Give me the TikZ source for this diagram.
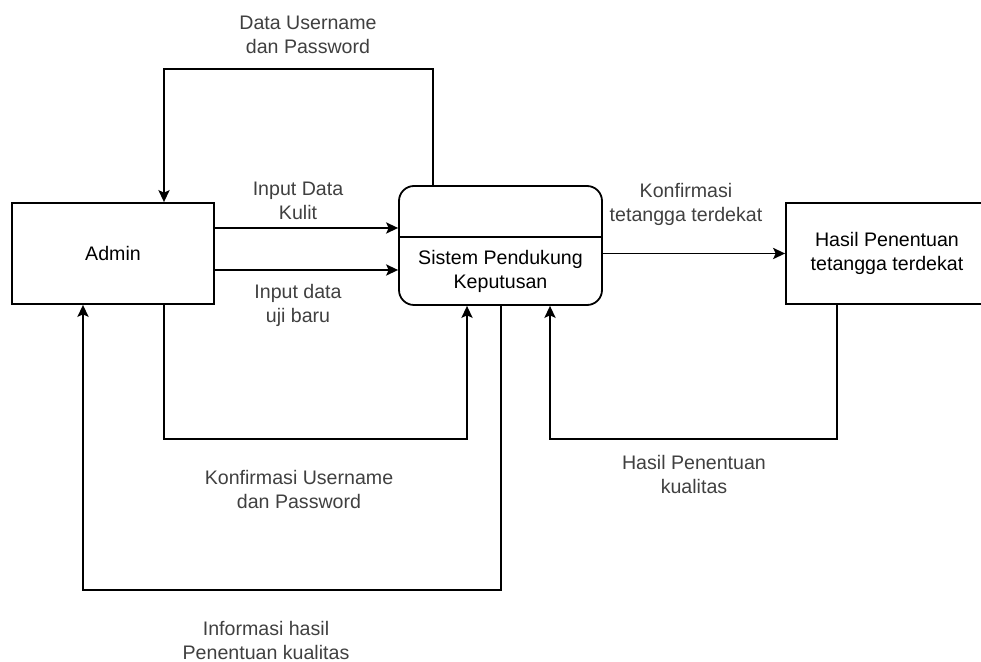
\documentclass[tikz,border=0pt]{standalone}
\usepackage{fontspec}
\setmainfont{Liberation Sans}
\usetikzlibrary{arrows.meta}
\definecolor{labelgray}{RGB}{64,64,64}
\begin{document}
\begin{tikzpicture}[x=0.5pt,y=-0.5pt,
  every node/.style={font=\fontsize{9.8}{12}\selectfont},
  entity/.style={draw=black, line width=0.9pt, fill=white, inner sep=0pt,
    minimum width=101pt, minimum height=50.5pt, align=center},
  procbox/.style={draw=black, line width=0.9pt, fill=white, inner sep=0pt,
    rounded corners=7.5pt, minimum width=101.5pt, minimum height=59.5pt},
  flowlabel/.style={text=labelgray, align=center, inner sep=0pt},
  flow/.style={draw=black, line width=0.9pt,
    -{Stealth[length=6pt, width=5.6pt, inset=1.3pt]}}]
  \useasboundingbox (0,0) rectangle (981,662);

  % external entities and the process
  \node[entity] (admin) at (113,253.5) {Admin};
  \node[entity] (hasil) at (887,253.5) {Hasil Penentuan\\tetangga terdekat};
  \node[procbox] (proc) at (500.5,245.5) {};
  \coordinate (divy) at (0,237);
  \draw[line width=0.9pt] (proc.west |- divy) -- (proc.east |- divy);
  \node[align=center, inner sep=0pt] (proctext) at (500.5,271)
    {Sistem Pendukung\\Keputusan};

  % bend points of the routed flows
  \coordinate (c1) at (433,69);
  \coordinate (c2) at (164,69);
  \coordinate (ya) at (0,228);
  \coordinate (yb) at (0,270);
  \coordinate (c3) at (164,439);
  \coordinate (c4) at (467,439);
  \coordinate (c5) at (501,590);
  \coordinate (c6) at (83,590);
  \coordinate (c7) at (837,439);
  \coordinate (c8) at (550,439);

  % data flows
  \draw[flow] (proc.north -| c1) -- (c1) -- (c2) -- (admin.north -| c2);
  \draw[flow] (admin.east |- ya) -- (proc.west |- ya);
  \draw[flow] (admin.east |- yb) -- (proc.west |- yb);
  \draw[flow] (admin.south -| c3) -- (c3) -- (c4) -- (proc.south -| c4);
  \draw[flow] (proc.south -| c5) -- (c5) -- (c6) -- (admin.south -| c6);
  \draw[flow] (proc.east |- hasil.west) -- (hasil.west);
  \draw[flow] (hasil.south -| c7) -- (c7) -- (c8) -- (proc.south -| c8);

  % flow labels
  \node[flowlabel] (l1) at (308,35) {Data Username\\dan Password};
  \node[flowlabel] (l2) at (298,201) {Input Data\\Kulit};
  \node[flowlabel] (l3) at (298,305) {Input data\\uji baru};
  \node[flowlabel] (l4) at (299,489) {Konfirmasi Username\\dan Password};
  \node[flowlabel] (l5) at (266,640) {Informasi hasil\\Penentuan kualitas};
  \node[flowlabel] (l6) at (686,204) {Konfirmasi\\tetangga terdekat};
  \node[flowlabel] (l7) at (694,474) {Hasil Penentuan\\kualitas};
\end{tikzpicture}
\end{document}
